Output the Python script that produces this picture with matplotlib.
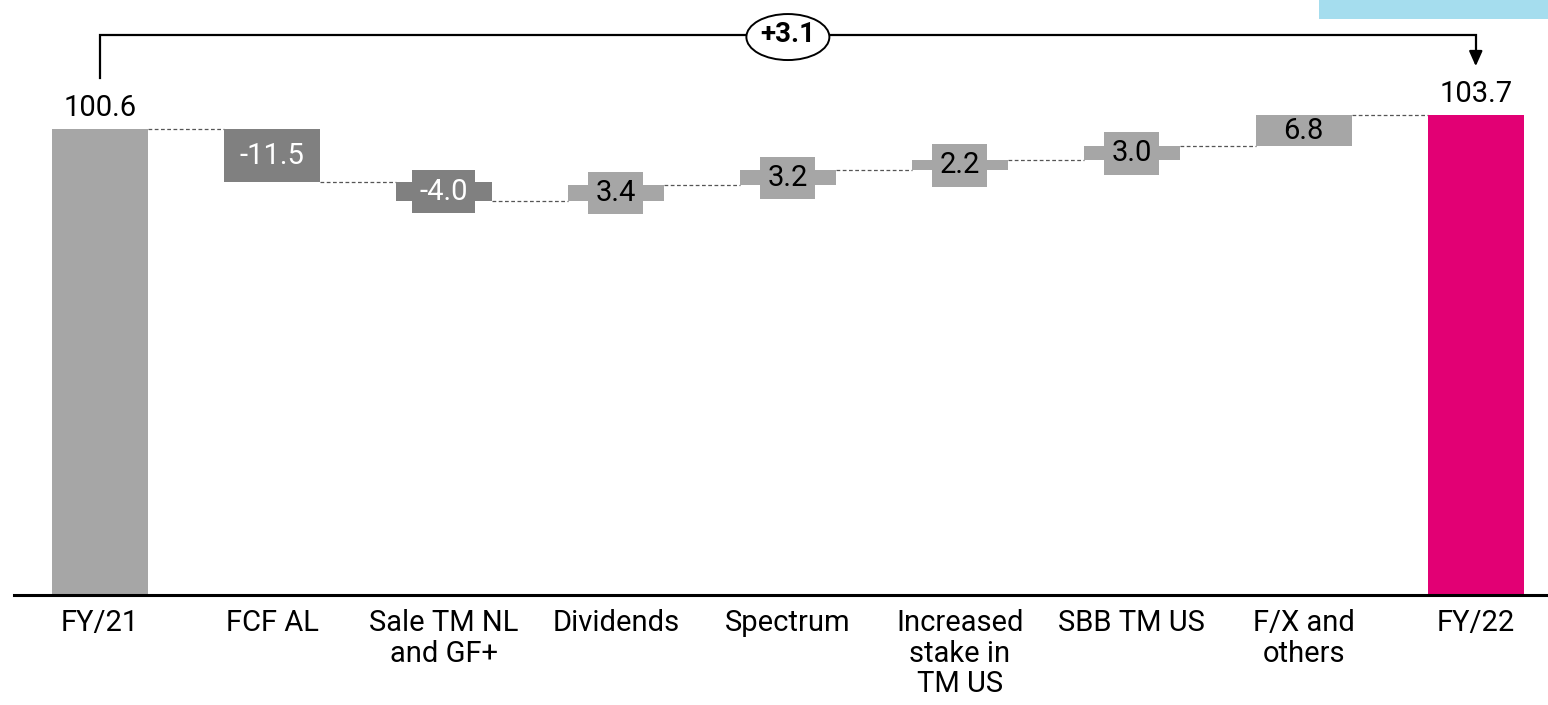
import matplotlib
matplotlib.use("Agg")
import matplotlib.pyplot as plt
from matplotlib.patches import Ellipse, Rectangle
import numpy as np

plt.rcParams['font.family'] = ['Roboto', 'DejaVu Sans']

categories = ["FY/21", "FCF AL", "Sale TM NL\nand GF+", "Dividends", "Spectrum",
              "Increased\nstake in\nTM US", "SBB TM US", "F/X and\nothers", "FY/22"]
values = [100.6, -11.5, -4.0, 3.4, 3.2, 2.2, 3.0, 6.8, 103.7]
value_labels = ["100.6", "-11.5", "-4.0", "3.4", "3.2", "2.2", "3.0", "6.8", "103.7"]
total_change_label = "+3.1"

GREY_TOTAL = "#A6A6A6"
GREY_DOWN = "#808080"
GREY_UP = "#A6A6A6"
MAGENTA = "#E20074"

n = len(values)
x = np.arange(n)
bottoms, heights, colors = [], [], []
level = 0.0
for i, v in enumerate(values):
    if i == 0:
        bottoms.append(0.0); heights.append(v); colors.append(GREY_TOTAL); level = v
    elif i == n - 1:
        bottoms.append(0.0); heights.append(v); colors.append(MAGENTA)
    else:
        if v < 0:
            bottoms.append(level + v); heights.append(-v); colors.append(GREY_DOWN)
        else:
            bottoms.append(level); heights.append(v); colors.append(GREY_UP)
        level += v

fig = plt.figure(figsize=(15.48, 7.05), dpi=100)
ax = fig.add_axes([14 / 1548, 110 / 705, 1 - 14 / 1548, 595 / 705])
ax.set_xlim(-0.5, 8.42)
ax.set_ylim(0, 128.5)

bw = 0.558
ax.bar(x, heights, bottom=bottoms, width=bw, color=colors, zorder=2)

# connectors
lev = values[0]
for i in range(n - 1):
    if i > 0:
        lev += values[i]
    ax.plot([x[i] + bw / 2, x[i + 1] - bw / 2], [lev, lev], color="#555555",
            lw=0.9, ls=(0, (3, 2)), zorder=1)

# labels
for i in range(n):
    if i == 0 or i == n - 1:
        ax.annotate(value_labels[i], (x[i], heights[i]), xytext=(0, 5),
                    textcoords="offset points", ha="center", va="bottom",
                    fontsize=21, color="black")
    else:
        c = colors[i]
        tc = "white" if values[i] < 0 else "black"
        bb = None
        if abs(values[i]) < 5:
            bb = dict(boxstyle="square,pad=0.25", fc=c, ec="none")
        ax.text(x[i], bottoms[i] + heights[i] / 2, value_labels[i], ha="center",
                va="center", fontsize=21, color=tc, zorder=3, bbox=bb)

# bracket
y_br = 120.95
ax.plot([x[0], x[0], x[-1], x[-1]], [111.7, y_br, y_br, 116.5], color="black",
        lw=1.6, zorder=4, solid_joinstyle="miter", clip_on=False)
ax.annotate("", xy=(x[-1], 114.2), xytext=(x[-1], 117.5),
            arrowprops=dict(arrowstyle="-|>,head_length=0.9,head_width=0.4",
                            color="black", lw=1.6, shrinkA=0, shrinkB=0))
xm = (788 - 100) / 172
ax.add_patch(Ellipse((xm, 120.5), width=83 / 172, height=46 / 4.63, fc="white",
                     ec="black", lw=1.4, zorder=5, clip_on=False))
ax.text(xm, 121.0, total_change_label, ha="center", va="center", fontsize=20,
        fontweight="bold", zorder=6)

# axes styling
for s in ["top", "right", "left"]:
    ax.spines[s].set_visible(False)
ax.spines["bottom"].set_linewidth(2.2)
ax.set_yticks([])
ax.set_xticks(x)
ax.set_xticklabels(categories, fontsize=21, linespacing=1.12, va="top")
ax.tick_params(axis="x", length=0, pad=10)

# light blue box top right
fig.patches.append(Rectangle((1319 / 1548, 1 - 19 / 705), 229 / 1548, 19 / 705,
                             transform=fig.transFigure, fc="#A5DDEE", ec="none"))

fig.savefig("out.png", dpi=100)
